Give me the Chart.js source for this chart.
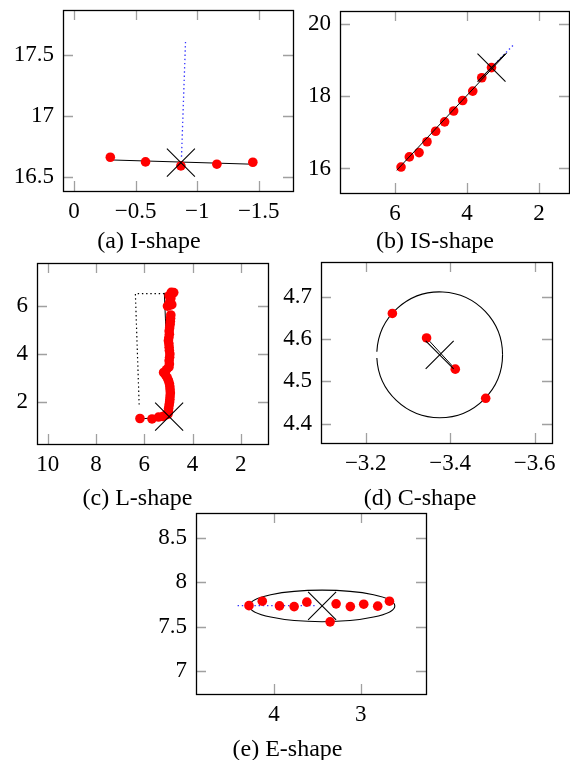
<!DOCTYPE html>
<html><head><meta charset="utf-8">
<script src="https://cdn.jsdelivr.net/npm/chart.js@4"></script>
<style>
html,body{margin:0;padding:0;background:#fff;overflow:hidden;width:570px;height:760px;}
canvas{position:absolute;}
.cap{position:absolute;font-family:'Liberation Serif','Times New Roman',serif;font-size:24px;color:#000;white-space:nowrap;transform:translateX(-50%);line-height:26px;}
</style></head><body>
<script>
// ---------- (a) I-shape ----------
const aXTicks = [0, -0.5, -1, -1.5];
const aYTicks = [16.5, 17, 17.5];
const aPtsX = [-0.295, -0.581, -0.868, -1.160, -1.452];
const aPtsY = [16.662, 16.624, 16.591, 16.605, 16.621];
const aFitX = [-0.30, -1.45];
const aFitY = [16.640, 16.605];
const aDirX = [-0.873, -0.906];
const aDirY = [16.667, 17.624];
const aCenterX = [-0.868];
const aCenterY = [16.618];

// ---------- (b) IS-shape ----------
const bXTicks = [6, 4, 2];
const bYTicks = [16, 18, 20];
const bPtsX = [5.83, 5.60, 5.33, 5.11, 4.87, 4.62, 4.37, 4.12, 3.84, 3.59, 3.32];
const bPtsY = [16.04, 16.32, 16.44, 16.74, 17.03, 17.29, 17.59, 17.88, 18.14, 18.51, 18.79];
const bFitX = [5.95, 2.90];
const bFitY = [15.95, 19.19];
const bDirX = [3.32, 2.68];
const bDirY = [18.79, 19.45];
const bCenterX = [3.32];
const bCenterY = [18.79];

// ---------- (c) L-shape ----------
const cXTicks = [10, 8, 6, 4, 2];
const cYTicks = [2, 4, 6];
const cPtsX = [6.18, 5.68, 5.41, 5.24, 5.10, 5.02, 5.00,
  4.99, 4.97, 4.95, 4.94, 4.93, 4.92, 4.93, 4.94, 4.96, 5.00, 5.05, 5.12, 5.20, 5.08,
  4.98, 4.96, 4.97, 4.95, 4.94, 4.96, 4.97, 4.98, 5.00, 4.98, 4.96, 4.97, 4.95, 4.93, 4.92, 4.91, 4.90,
  5.04, 4.95, 4.86, 4.94, 4.90, 4.97, 4.83, 4.78, 4.88];
const cPtsY = [1.32, 1.30, 1.38, 1.40, 1.47, 1.50, 1.62,
  1.75, 1.88, 2.00, 2.12, 2.25, 2.38, 2.51, 2.64, 2.77, 2.90, 3.02, 3.13, 3.23, 3.35,
  3.45, 3.58, 3.72, 3.86, 4.00, 4.14, 4.28, 4.42, 4.55, 4.68, 4.82, 4.95, 5.08, 5.22, 5.35, 5.48, 5.62,
  5.99, 6.03, 6.05, 6.17, 6.30, 6.42, 6.51, 6.55, 6.56];
const cFitX = [6.18, 4.95, 5.17];
const cFitY = [1.30, 1.40, 6.54];
const cBoxX = [5.17, 6.37, 6.21];
const cBoxY = [6.51, 6.51, 1.80];
const cCenterX = [4.97];
const cCenterY = [1.40];

// ---------- (d) C-shape ----------
const dXTicks = [-3.2, -3.4, -3.6];
const dYTicks = [4.4, 4.5, 4.6, 4.7];
const dPtsX = [-3.263, -3.344, -3.412, -3.484];
const dPtsY = [4.661, 4.603, 4.529, 4.460];
const dLinkX = [-3.344, -3.412];
const dLinkY = [4.603, 4.529];
const dCenterX = [-3.375];
const dCenterY = [4.563];
const dRadius = [0.149];

// ---------- (e) E-shape ----------
const eXTicks = [4, 3];
const eYTicks = [7, 7.5, 8, 8.5];
const ePtsX = [4.287, 4.134, 3.936, 3.767, 3.621, 3.353, 3.284, 3.120, 2.966, 2.805, 2.670];
const ePtsY = [7.736, 7.786, 7.733, 7.725, 7.775, 7.553, 7.756, 7.725, 7.752, 7.730, 7.786];
const eDirX = [4.418, 3.517];
const eDirY = [7.736, 7.736];
const eCenterX = [3.445];
const eCenterY = [7.733];
const eRadii = [0.837, 0.178];

// ---------- helpers ----------
const FONT = "'Liberation Serif','Times New Roman',serif";
const RED = '#ff0000';
const BLUE = 'rgba(30,30,255,0.9)';
const zip = (xs, ys) => xs.map((x, i) => ({x: x, y: ys[i]}));
const fmt = v => { const r = Math.round(v * 1000) / 1000; return (r < 0 ? '\u2212' : '') + String(Math.abs(r)); };

const ptsDS = (xs, ys) => ({data: zip(xs, ys), pointRadius: 4.8, pointBackgroundColor: RED, pointBorderWidth: 0, showLine: false});
const lineDS = (xs, ys, color, dash, w) => ({data: zip(xs, ys), showLine: true, borderColor: color, borderWidth: w || 1, borderDash: dash || [], pointRadius: 0, fill: false, tension: 0});
const crossDS = (xs, ys) => ({data: zip(xs, ys), pointStyle: 'crossRot', pointRadius: 19.8, pointBorderColor: '#000', pointBorderWidth: 1.1, showLine: false});

const frame = {
  id: 'frame',
  beforeDatasetsDraw(chart) {
    const ctx = chart.ctx, a = chart.chartArea, xs = chart.scales.x, ys = chart.scales.y;
    const L = 10;
    ctx.save();
    ctx.strokeStyle = '#a0a0a0';
    ctx.lineWidth = 1.3;
    ctx.beginPath();
    xs.ticks.forEach(t => {
      const p = Math.round(xs.getPixelForValue(t.value)) + 0.5;
      ctx.moveTo(p, a.bottom); ctx.lineTo(p, a.bottom - L);
      ctx.moveTo(p, a.top); ctx.lineTo(p, a.top + L);
    });
    ys.ticks.forEach(t => {
      const p = Math.round(ys.getPixelForValue(t.value)) + 0.5;
      ctx.moveTo(a.left, p); ctx.lineTo(a.left + L, p);
      ctx.moveTo(a.right, p); ctx.lineTo(a.right - L, p);
    });
    ctx.stroke();
    ctx.restore();
  },
  afterDatasetsDraw(chart) {
    const ctx = chart.ctx, a = chart.chartArea;
    ctx.save();
    ctx.strokeStyle = '#000';
    ctx.lineWidth = 1.3;
    ctx.strokeRect(Math.round(a.left) + 0.5, Math.round(a.top) + 0.5, Math.round(a.right - a.left), Math.round(a.bottom - a.top));
    ctx.restore();
  }
};

const YW = 60, XH = 44, PT = 6, PR = 8;

function makePanel(box, xr, yr, xTicks, yTicks, datasets, extra) {
  const [L, T, R, B] = box;
  const cv = document.createElement('canvas');
  const W = YW + (R - L) + PR, H = PT + (B - T) + XH;
  cv.width = W; cv.height = H;
  cv.style.left = (L - YW) + 'px'; cv.style.top = (T - PT) + 'px';
  cv.style.width = W + 'px'; cv.style.height = H + 'px';
  document.body.appendChild(cv);
  const tickFont = {family: FONT, size: 23};
  new Chart(cv, {
    type: 'scatter',
    data: {datasets: datasets},
    options: {
      responsive: false, animation: false, devicePixelRatio: 1,
      events: [],
      layout: {padding: {left: 0, top: PT, right: PR, bottom: 0}, autoPadding: false},
      plugins: {legend: {display: false}, tooltip: {enabled: false}},
      scales: {
        x: {
          type: 'linear', position: 'bottom', reverse: true,
          min: Math.min(xr[0], xr[1]), max: Math.max(xr[0], xr[1]),
          afterBuildTicks: s => { s.ticks = xTicks.map(v => ({value: v})); },
          afterFit: s => { s.height = XH; s.paddingLeft = 0; s.paddingRight = 0; },
          grid: {display: false, drawTicks: false},
          border: {display: false},
          ticks: {font: tickFont, color: '#000', padding: 7, maxRotation: 0, autoSkip: false, callback: v => fmt(v)}
        },
        y: {
          type: 'linear', position: 'left',
          min: yr[0], max: yr[1],
          afterBuildTicks: s => { s.ticks = yTicks.map(v => ({value: v})); },
          afterFit: s => { s.width = YW; s.paddingTop = 0; s.paddingBottom = 0; },
          grid: {display: false, drawTicks: false},
          border: {display: false},
          ticks: {font: tickFont, color: '#000', padding: 9, autoSkip: false, callback: v => fmt(v)}
        }
      }
    },
    plugins: extra ? [frame, extra] : [frame]
  });
}

function caption(text, cx, cy) {
  const d = document.createElement('div');
  d.className = 'cap';
  d.textContent = text;
  d.style.left = cx + 'px';
  d.style.top = (cy - 13) + 'px';
  document.body.appendChild(d);
}

// (a)
makePanel([63, 10, 293, 191], [0.089, -1.778], [16.385, 17.871], aXTicks, aYTicks, [
  crossDS(aCenterX, aCenterY),
  ptsDS(aPtsX, aPtsY),
  lineDS(aFitX, aFitY, '#000', [], 1),
  lineDS(aDirX, aDirY, BLUE, [1.4, 2.8], 1.3)
]);
// (b)
makePanel([340, 11, 569, 193], [7.524, 1.169], [15.322, 20.356], bXTicks, bYTicks, [
  crossDS(bCenterX, bCenterY),
  lineDS(bFitX, bFitY, '#000', [], 1),
  ptsDS(bPtsX, bPtsY),
  lineDS(bDirX, bDirY, BLUE, [1.4, 2.8], 1.3)
]);
// (c)
makePanel([37, 263, 268, 444], [10.45, 0.87], [0.26, 7.78], cXTicks, cYTicks, [
  crossDS(cCenterX, cCenterY),
  ptsDS(cPtsX, cPtsY),
  lineDS(cFitX, cFitY, '#000', [], 1),
  lineDS(cBoxX, cBoxY, '#000', [1.4, 2.8], 1.2)
]);
// (d)
const circlePlugin = {
  id: 'circleD',
  beforeDatasetsDraw(chart) {
    const ctx = chart.ctx, xs = chart.scales.x, ys = chart.scales.y;
    const cx = xs.getPixelForValue(dCenterX[0]), cy = ys.getPixelForValue(dCenterY[0]);
    const rx = Math.abs(xs.getPixelForValue(dCenterX[0] + dRadius[0]) - cx);
    const ry = Math.abs(ys.getPixelForValue(dCenterY[0] + dRadius[0]) - cy);
    const r = (rx + ry) / 2;
    ctx.save();
    ctx.strokeStyle = '#000'; ctx.lineWidth = 1.1;
    ctx.beginPath();
    ctx.arc(cx, cy, r, -Math.PI + 0.05, 0, false);
    ctx.stroke();
    ctx.beginPath();
    ctx.arc(cx, cy, r, 0, Math.PI - 0.05, false);
    ctx.stroke();
    ctx.restore();
  }
};
makePanel([321, 262, 552, 443], [-3.094, -3.641], [4.354, 4.783], dXTicks, dYTicks, [
  crossDS(dCenterX, dCenterY),
  ptsDS(dPtsX, dPtsY),
  lineDS(dLinkX, dLinkY, '#000', [], 1)
], circlePlugin);
// (e)
const ellipsePlugin = {
  id: 'ellipseE',
  beforeDatasetsDraw(chart) {
    const ctx = chart.ctx, xs = chart.scales.x, ys = chart.scales.y;
    const cx = xs.getPixelForValue(eCenterX[0]), cy = ys.getPixelForValue(eCenterY[0]);
    const rx = Math.abs(xs.getPixelForValue(eCenterX[0] + eRadii[0]) - cx);
    const ry = Math.abs(ys.getPixelForValue(eCenterY[0] + eRadii[1]) - cy);
    ctx.save();
    ctx.strokeStyle = '#000'; ctx.lineWidth = 1.1;
    ctx.beginPath();
    ctx.ellipse(cx, cy, rx, ry, 0, 0, Math.PI * 2);
    ctx.stroke();
    ctx.restore();
  }
};
makePanel([196, 513, 426, 694], [4.897, 2.249], [6.74, 8.78], eXTicks, eYTicks, [
  crossDS(eCenterX, eCenterY),
  ptsDS(ePtsX, ePtsY),
  lineDS(eDirX, eDirY, BLUE, [1.4, 2.8], 1.3)
], ellipsePlugin);

caption('(a) I-shape', 149, 240);
caption('(b) IS-shape', 435, 240);
caption('(c) L-shape', 137.5, 497);
caption('(d) C-shape', 420, 497);
caption('(e) E-shape', 287.5, 748);
</script>
</body></html>
